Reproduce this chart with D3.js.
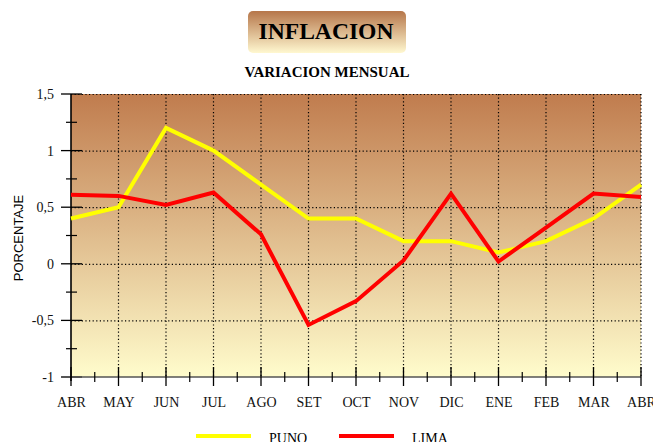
<!DOCTYPE html>
<html lang="es">
<head>
<meta charset="UTF-8">
<script src="https://d3js.org/d3.v7.min.js"></script>
<title>Inflacion</title>
<style>
    body { margin: 0; background: white; }
    svg { display: block; }
</style>
</head>
<body>
<svg id="chart"></svg>
<script>
// datos
const months = ["ABR", "MAY", "JUN", "JUL", "AGO", "SET", "OCT", "NOV", "DIC", "ENE", "FEB", "MAR", "ABR"];
const puno = [0.4, 0.5, 1.2, 1.0, 0.7, 0.4, 0.4, 0.2, 0.2, 0.1, 0.2, 0.4, 0.7];
const lima = [0.61, 0.6, 0.52, 0.63, 0.26, -0.54, -0.33, 0.03, 0.62, 0.02, 0.32, 0.62, 0.59];
const yTicks = [-1, -0.5, 0, 0.5, 1, 1.5];
const yTickLabels = ["-1", "-0,5", "0", "0,5", "1", "1,5"];
const yMinor = [-0.75, -0.25, 0.25, 0.75, 1.25];

const w = 653, h = 442;
const svg = d3.select("#chart").attr("width", w).attr("height", h);
const defs = svg.append("defs");

const serif = "'Liberation Serif', 'Times New Roman', serif";

// index positions, since ABR appears twice
const idx = months.map((m, i) => i);
const x = d3.scalePoint().domain(idx).range([71, 641]);
const y = d3.scaleLinear().domain([-1, 1.5]).range([377, 94]);

// gradients
const bg = defs.append("linearGradient").attr("id", "bg")
    .attr("x1", 0).attr("y1", 0).attr("x2", 0).attr("y2", 1);
bg.append("stop").attr("offset", "0%").attr("stop-color", "#c07c4e");
bg.append("stop").attr("offset", "100%").attr("stop-color", "#fffccc");

const tg = defs.append("linearGradient").attr("id", "tg")
    .attr("x1", 0).attr("y1", 0).attr("x2", 0).attr("y2", 1);
tg.append("stop").attr("offset", "0%").attr("stop-color", "#b6764a");
tg.append("stop").attr("offset", "100%").attr("stop-color", "#fff8d0");

// title box
svg.append("rect")
    .attr("x", 248).attr("y", 11).attr("width", 158).attr("height", 42)
    .attr("rx", 5)
    .attr("fill", "url(#tg)");
svg.append("text")
    .attr("x", 326).attr("y", 38.5)
    .attr("text-anchor", "middle")
    .attr("textLength", 135).attr("lengthAdjust", "spacingAndGlyphs")
    .style("font-family", serif).style("font-weight", "bold").style("font-size", "24px")
    .text("INFLACION");
svg.append("text")
    .attr("x", 327).attr("y", 76.5)
    .attr("text-anchor", "middle")
    .attr("textLength", 165).attr("lengthAdjust", "spacingAndGlyphs")
    .style("font-family", serif).style("font-weight", "bold").style("font-size", "14px")
    .text("VARIACION MENSUAL");

// plot background
svg.append("rect")
    .attr("x", x(0)).attr("y", y(1.5))
    .attr("width", x(12) - x(0)).attr("height", y(-1) - y(1.5))
    .attr("fill", "url(#bg)");

// grid dotted
svg.append("g").selectAll("line")
    .data(yTicks.filter(d => d > -1))
    .join("line")
    .attr("x1", x(0)).attr("x2", x(12))
    .attr("y1", d => y(d) + 0.5).attr("y2", d => y(d) + 0.5)
    .attr("stroke", "#000").attr("stroke-width", 1.2)
    .attr("stroke-dasharray", "1.2,2.4");
svg.append("g").selectAll("line")
    .data(idx.slice(1))
    .join("line")
    .attr("x1", d => x(d)).attr("x2", d => x(d))
    .attr("y1", y(1.5)).attr("y2", y(-1))
    .attr("stroke", "#000").attr("stroke-width", 1.2)
    .attr("stroke-dasharray", "1.2,2.4");

// y axis
const yAxis = d3.axisLeft(y)
    .tickValues(yTicks)
    .tickFormat((d, i) => yTickLabels[i])
    .tickSize(0).tickPadding(17);
const ya = svg.append("g").attr("transform", "translate(71,0)").call(yAxis);
ya.select(".domain").remove();
ya.selectAll("text").style("font-family", serif).style("font-size", "14px").attr("fill", "#111");

svg.append("g").selectAll("line")
    .data(yTicks)
    .join("line")
    .attr("x1", 61).attr("x2", 82)
    .attr("y1", d => y(d)).attr("y2", d => y(d))
    .attr("stroke", "#000").attr("stroke-width", 1.3);
svg.append("g").selectAll("line")
    .data(yMinor)
    .join("line")
    .attr("x1", 66).attr("x2", 77)
    .attr("y1", d => y(d)).attr("y2", d => y(d))
    .attr("stroke", "#000").attr("stroke-width", 1.2);

// x axis
svg.append("line")
    .attr("x1", 62).attr("x2", x(12))
    .attr("y1", y(-1)).attr("y2", y(-1))
    .attr("stroke", "#555").attr("stroke-width", 1.6);
const xAxis = d3.axisBottom(x)
    .tickFormat(i => months[i])
    .tickSize(0).tickPadding(20);
const xa = svg.append("g").attr("transform", "translate(0," + y(-1) + ")").call(xAxis);
xa.select(".domain").remove();
xa.selectAll("text").style("font-family", serif).style("font-size", "14px").attr("fill", "#111");

svg.append("g").selectAll("line")
    .data(idx)
    .join("line")
    .attr("x1", d => x(d)).attr("x2", d => x(d))
    .attr("y1", 367).attr("y2", 386)
    .attr("stroke", "#000").attr("stroke-width", 1.3);
svg.append("g").selectAll("line")
    .data(idx.slice(1))
    .join("line")
    .attr("x1", d => (x(d) + x(d - 1)) / 2).attr("x2", d => (x(d) + x(d - 1)) / 2)
    .attr("y1", 372).attr("y2", 382)
    .attr("stroke", "#000").attr("stroke-width", 1.2);

// y axis line
svg.append("line")
    .attr("x1", 71).attr("x2", 71)
    .attr("y1", y(1.5)).attr("y2", 381)
    .attr("stroke", "#000").attr("stroke-width", 1.6);

// y label
svg.append("text")
    .attr("transform", "translate(23,238) rotate(-90)")
    .attr("text-anchor", "middle")
    .style("font-family", "'Liberation Sans', Arial, sans-serif")
    .style("font-size", "13px")
    .text("PORCENTAJE");

// series
const line = d3.line().x((d, i) => x(i)).y(d => y(d));
svg.append("path").datum(puno)
    .attr("d", line).attr("fill", "none")
    .attr("stroke", "#ffff00").attr("stroke-width", 4);
svg.append("path").datum(lima)
    .attr("d", line).attr("fill", "none")
    .attr("stroke", "#ff0000").attr("stroke-width", 4);

// legend
const legend = [
    { name: "PUNO", color: "#ffff00", x: 196 },
    { name: "LIMA", color: "#ff0000", x: 339 }
];
const lg = svg.append("g").selectAll("g").data(legend).join("g")
    .attr("transform", d => "translate(" + d.x + ",436)");
lg.append("line")
    .attr("x1", 0).attr("x2", 55).attr("y1", 0).attr("y2", 0)
    .attr("stroke", d => d.color).attr("stroke-width", 4);
lg.append("text")
    .attr("x", 73).attr("y", 6.5)
    .style("font-family", serif).style("font-size", "14px")
    .text(d => d.name);
</script>
</body>
</html>
